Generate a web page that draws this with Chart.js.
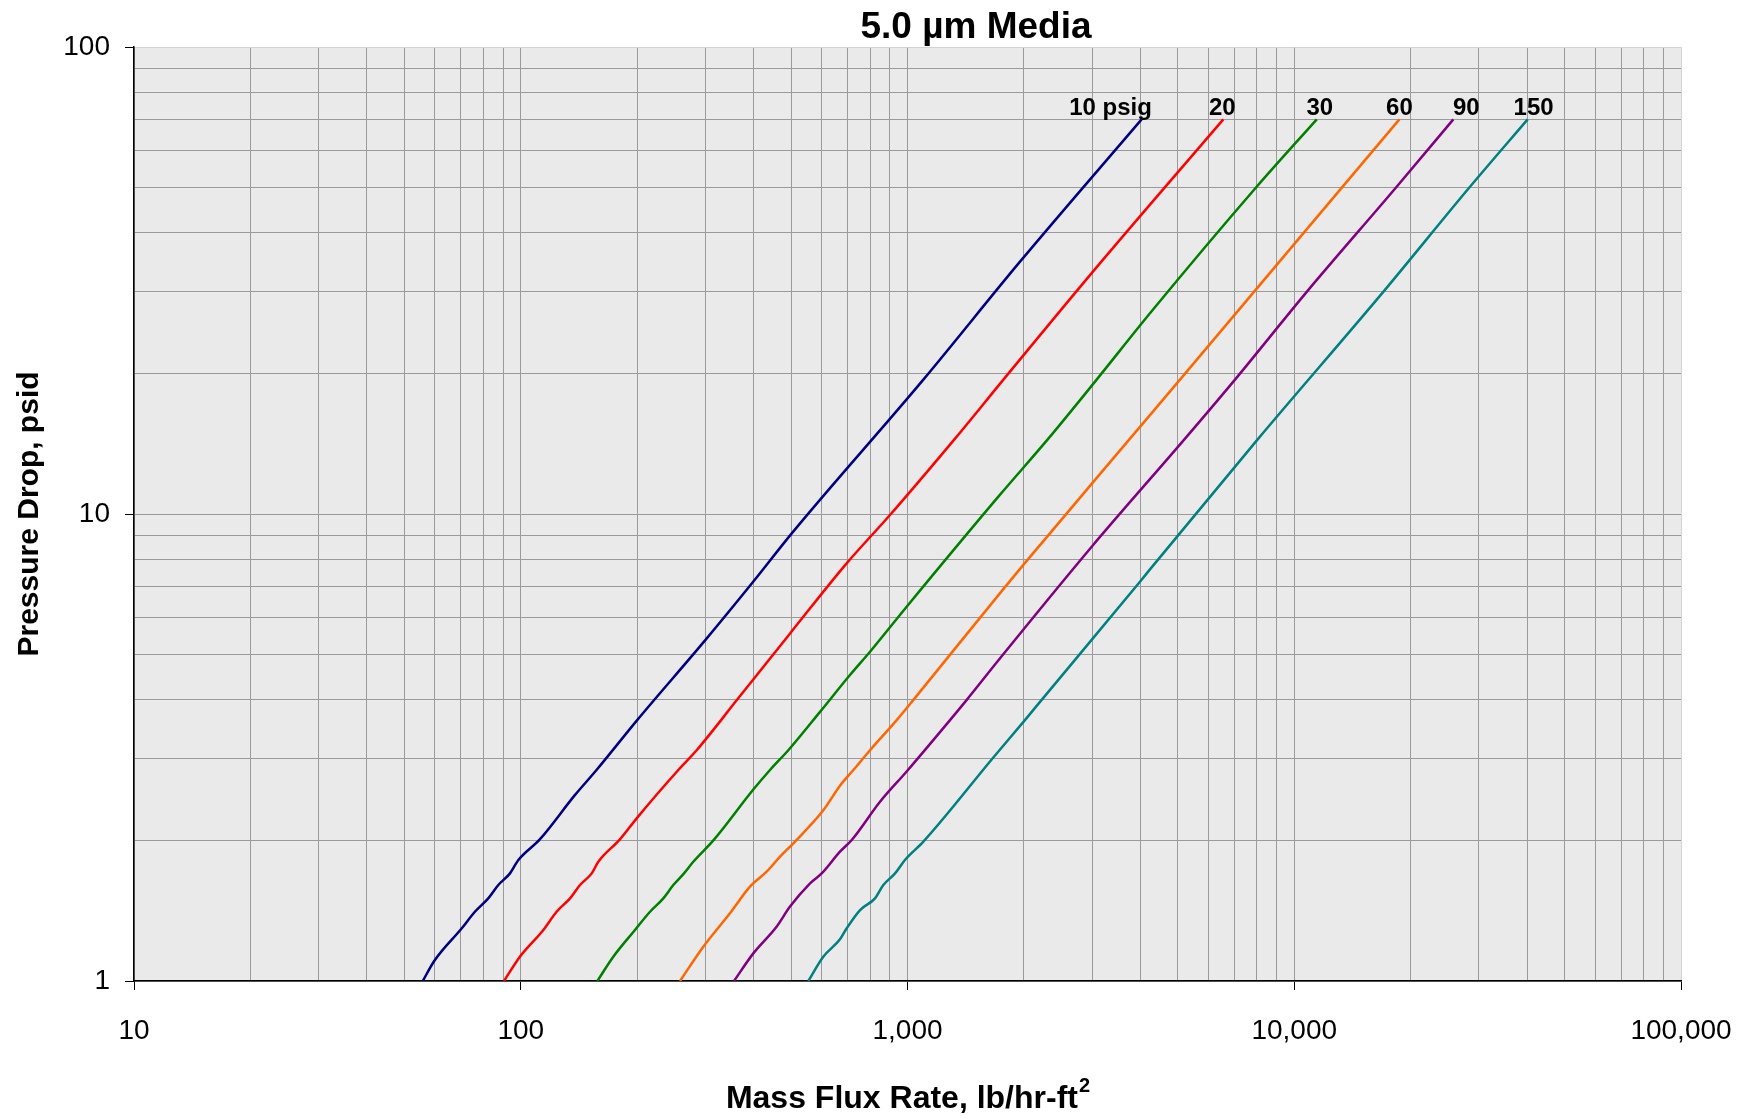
<!DOCTYPE html>
<html>
<head>
<meta charset="utf-8">
<title>5.0 µm Media</title>
<script src="https://cdn.jsdelivr.net/npm/chart.js@4.4.0/dist/chart.umd.min.js"></script>
<style>
  html, body { margin: 0; padding: 0; background: #fff; }
</style>
</head>
<body>
<canvas id="chart" width="1750" height="1118"></canvas>
<script>
// axis ticks
const xMajorTicks = [10, 100, 1000, 10000, 100000];
const xTickLabels = ['10', '100', '1,000', '10,000', '100,000'];
const yMajorTicks = [1, 10, 100];
const yTickLabels = ['1', '10', '100'];

// curve labels
const curveLabels = ['10 psig', '20', '30', '60', '90', '150'];

// 10 psig
const flow10 = [55.8, 59.8, 70.4, 76.1, 82.4, 87.5, 93.8, 98.6, 112, 138, 157, 200, 300, 399, 502, 1099, 1954, 4030];
const dp10 = [1, 1.105, 1.297, 1.407, 1.503, 1.605, 1.70, 1.816, 2.01, 2.5, 2.83, 3.62, 5.37, 7.16, 9.09, 19.4, 34.7, 70];
// 20 psig
const flow20 = [90.5, 99.5, 114.4, 123.8, 134.1, 142.3, 152.6, 158.7, 180.5, 199.4, 255.5, 285, 365, 497, 696, 901, 1327, 1770, 2994, 6555];
const dp20 = [1, 1.127, 1.286, 1.407, 1.503, 1.605, 1.70, 1.80, 2.01, 2.23, 2.83, 3.12, 4.03, 5.55, 7.84, 9.95, 14.5, 19.4, 32.8, 70];
// 30 psig
const flow30 = [157.8, 173.5, 197.4, 215.9, 233.7, 248, 264.3, 279.3, 314.8, 399.3, 441, 491.8, 594, 710, 800, 995, 1735, 2313, 3084, 4236, 7995, 11435];
const dp30 = [1, 1.127, 1.286, 1.407, 1.503, 1.605, 1.70, 1.80, 2.0, 2.57, 2.83, 3.12, 3.77, 4.52, 5.07, 6.33, 11.0, 14.5, 19.4, 26.9, 50.2, 70];
// 60 psig
const flow60 = [258.1, 296.5, 347.5, 391.5, 432.3, 468.1, 506.8, 605.7, 669, 724.5, 800, 937.6, 1036, 1735, 1993, 3761, 5065, 18700];
const dp60 = [1, 1.184, 1.396, 1.592, 1.714, 1.846, 1.972, 2.32, 2.62, 2.83, 3.12, 3.62, 4.0, 6.77, 7.78, 14.5, 19.4, 70];
// 90 psig
const flow90 = [355.9, 399.3, 458.6, 496.8, 559.8, 600, 669, 717.5, 849, 995, 1288, 1423, 1735, 2994, 5219, 7028, 10773, 18400, 25780];
const dp90 = [1, 1.146, 1.307, 1.443, 1.619, 1.70, 1.892, 2.004, 2.42, 2.81, 3.62, 4.0, 4.91, 8.51, 14.5, 19.4, 29.9, 50.2, 70];
// 150 psig
const flow150 = [554.1, 605.7, 669, 696.3, 754, 824, 866, 928.5, 985, 1099, 1667, 2012, 2223, 3991, 4236, 8073, 16990, 28470, 40130];
const dp150 = [1, 1.127, 1.228, 1.297, 1.419, 1.503, 1.605, 1.70, 1.816, 1.988, 3.01, 3.62, 4.0, 7.16, 7.61, 14.5, 29.9, 50.2, 70];

const seriesFlow = [flow10, flow20, flow30, flow60, flow90, flow150];
const seriesDp = [dp10, dp20, dp30, dp60, dp90, dp150];
const colors = ['#000080', '#ff0000', '#008000', '#ff6600', '#800080', '#008080'];
// label placement relative to the end of each curve (px)
const labelDx = [-31, -1, 3, 0, 13, 6];

const FONT = "'Liberation Sans', Arial, sans-serif";

function gridValues(majors) {
    const out = [];
    for (let i = 0; i < majors.length - 1; i++) {
        for (let k = 1; k < 10; k++) out.push(majors[i] * k);
    }
    out.push(majors[majors.length - 1]);
    return out;
}
const xGrid = gridValues(xMajorTicks);
const yGrid = gridValues(yMajorTicks);

const datasets = seriesFlow.map((xs, i) => ({
    label: curveLabels[i],
    data: xs.map((x, j) => ({ x: x, y: seriesDp[i][j] })),
    borderColor: colors[i],
    backgroundColor: colors[i],
    borderWidth: 2.5,
    pointRadius: 0,
    fill: false,
    cubicInterpolationMode: 'monotone'
}));

const plotBackground = {
    id: 'plotBackground',
    beforeDraw(chart) {
        const a = chart.chartArea;
        const c = chart.ctx;
        c.save();
        c.fillStyle = '#eaeaea';
        c.fillRect(a.left, a.top, a.right - a.left, a.bottom - a.top);
        c.restore();
    }
};

const textLayer = {
    id: 'textLayer',
    afterDraw(chart) {
        const c = chart.ctx;
        const a = chart.chartArea;
        c.save();
        c.fillStyle = '#000';

        // main title
        c.font = 'bold 37px ' + FONT;
        c.textAlign = 'center';
        c.textBaseline = 'alphabetic';
        c.fillText('5.0 µm Media', 976, 38);

        // x axis title with superscript
        const main = 'Mass Flux Rate, lb/hr-ft';
        c.font = 'bold 32px ' + FONT;
        const w1 = c.measureText(main).width;
        c.font = 'bold 20px ' + FONT;
        const w2 = c.measureText('2').width;
        const x0 = (a.left + a.right) / 2 - (w1 + w2) / 2;
        c.textAlign = 'left';
        c.font = 'bold 32px ' + FONT;
        c.fillText(main, x0, 1108);
        c.font = 'bold 20px ' + FONT;
        c.fillText('2', x0 + w1 + 1, 1092);

        // y axis title
        c.save();
        c.translate(38, (a.top + a.bottom) / 2);
        c.rotate(-Math.PI / 2);
        c.textAlign = 'center';
        c.font = 'bold 30px ' + FONT;
        c.fillText('Pressure Drop, psid', 0, 0);
        c.restore();

        // curve labels
        c.font = 'bold 24px ' + FONT;
        c.textAlign = 'center';
        chart.data.datasets.forEach((ds, i) => {
            const meta = chart.getDatasetMeta(i);
            const last = meta.data[meta.data.length - 1];
            c.fillText(curveLabels[i], last.x + labelDx[i], last.y - 4);
        });
        c.restore();
    }
};

function isMajor(v, majors) {
    return majors.indexOf(v) >= 0;
}

new Chart(document.getElementById('chart'), {
    type: 'line',
    data: { datasets: datasets },
    options: {
        responsive: false,
        animation: false,
        layout: { padding: { top: 47, right: 69, bottom: 0, left: 0 } },
        plugins: {
            legend: { display: false },
            title: { display: false },
            tooltip: { enabled: false }
        },
        scales: {
            x: {
                type: 'logarithmic',
                min: 10,
                max: 100000,
                afterBuildTicks: s => { s.ticks = xGrid.map(v => ({ value: v })); },
                afterFit: s => {
                    s.height = 137;
                    s.paddingLeft = 0;
                    s.paddingRight = 0;
                },
                border: { color: '#000', width: 1.5 },
                grid: {
                    color: c => (c.tick && c.tick.value === 100000) ? '#d2d2d2' : '#9a9a9a',
                    lineWidth: 1,
                    tickLength: 9,
                    tickColor: c => (c.tick && isMajor(c.tick.value, xMajorTicks)) ? '#000' : 'rgba(0,0,0,0)'
                },
                ticks: {
                    autoSkip: false,
                    maxRotation: 0,
                    minRotation: 0,
                    padding: 24,
                    color: '#000',
                    font: { family: FONT, size: 28 },
                    callback: v => {
                        const i = xMajorTicks.indexOf(v);
                        return i >= 0 ? xTickLabels[i] : '';
                    }
                }
            },
            y: {
                type: 'logarithmic',
                min: 1,
                max: 100,
                afterBuildTicks: s => { s.ticks = yGrid.map(v => ({ value: v })); },
                afterFit: s => {
                    s.width = 134;
                    s.paddingTop = 0;
                    s.paddingBottom = 0;
                },
                border: { color: '#000', width: 1.5 },
                grid: {
                    color: c => (c.tick && c.tick.value === 100) ? '#d2d2d2' : '#9a9a9a',
                    lineWidth: 1,
                    tickLength: 9,
                    tickColor: c => (c.tick && isMajor(c.tick.value, yMajorTicks)) ? '#000' : 'rgba(0,0,0,0)'
                },
                ticks: {
                    autoSkip: false,
                    padding: 15,
                    color: '#000',
                    font: { family: FONT, size: 28 },
                    callback: v => {
                        const i = yMajorTicks.indexOf(v);
                        return i >= 0 ? yTickLabels[i] : '';
                    }
                }
            }
        }
    },
    plugins: [plotBackground, textLayer]
});
</script>
</body>
</html>
